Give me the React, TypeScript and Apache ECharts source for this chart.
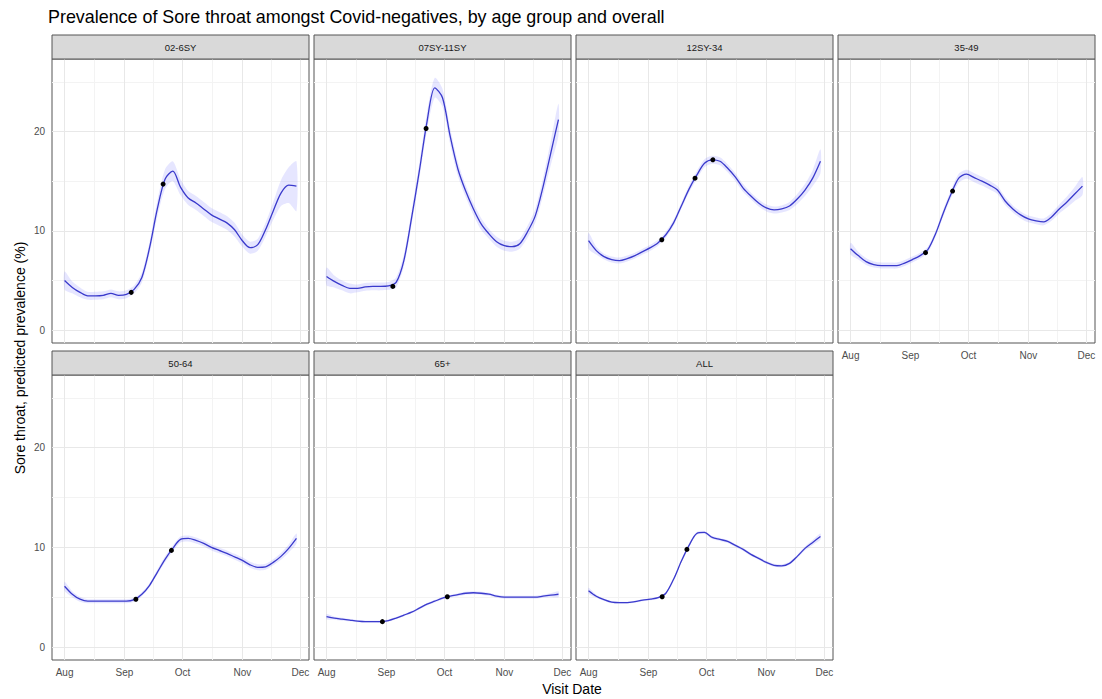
import React, { useEffect, useRef } from "react";
import * as echarts from "echarts";

const FONT = "'Liberation Sans', Arial, sans-serif";

// Days since 1 Aug at which the smoothed prevalence curves are sampled
const days = [0, 4, 8, 12, 16, 20, 24, 28, 32, 36, 40, 44, 48, 52, 56, 60, 64, 68, 72, 76, 80, 84, 88, 92, 96, 100, 104, 108, 112, 116, 120];

const panelNames = ["02-6SY", "07SY-11SY", "12SY-34", "35-49", "50-64", "65+", "ALL"];

const prev02_6SY = [5.0, 4.3, 3.8, 3.45, 3.45, 3.5, 3.7, 3.5, 3.6, 4.1, 5.3, 8.3, 12.2, 15.2, 16.0, 14.4, 13.3, 12.8, 12.2, 11.6, 11.2, 10.8, 10.1, 9.0, 8.3, 8.6, 10.1, 12.0, 13.8, 14.6, 14.5];
const prev07SY_11SY = [5.4, 4.9, 4.5, 4.2, 4.2, 4.35, 4.4, 4.4, 4.45, 4.8, 7.0, 11.3, 16.0, 21.0, 24.4, 23.4, 19.5, 16.2, 14.0, 12.2, 10.7, 9.7, 8.9, 8.5, 8.4, 8.7, 9.9, 11.5, 14.4, 17.8, 21.2];
const prev12SY_34 = [9.0, 8.0, 7.4, 7.1, 7.0, 7.2, 7.5, 7.9, 8.3, 8.8, 9.6, 10.8, 12.5, 14.2, 15.6, 16.8, 17.15, 17.0, 16.3, 15.4, 14.3, 13.5, 12.8, 12.3, 12.1, 12.2, 12.5, 13.2, 14.1, 15.3, 17.0];
const prev35_49 = [8.2, 7.5, 6.9, 6.6, 6.5, 6.5, 6.5, 6.75, 7.1, 7.5, 8.1, 9.7, 11.8, 13.7, 15.3, 15.7, 15.35, 15.0, 14.6, 14.1, 13.0, 12.2, 11.6, 11.2, 11.0, 10.9, 11.4, 12.2, 12.9, 13.7, 14.5];
const prev50_64 = [6.1, 5.3, 4.8, 4.6, 4.6, 4.6, 4.6, 4.6, 4.6, 4.75, 5.3, 6.2, 7.5, 8.8, 9.9, 10.8, 10.9, 10.7, 10.4, 10.0, 9.7, 9.4, 9.05, 8.7, 8.25, 8.0, 8.05, 8.5, 9.1, 9.9, 10.9];
const prev65plus = [3.05, 2.9, 2.8, 2.7, 2.6, 2.55, 2.55, 2.55, 2.65, 2.9, 3.2, 3.5, 3.9, 4.3, 4.6, 4.9, 5.1, 5.25, 5.4, 5.45, 5.4, 5.3, 5.1, 5.0, 5.0, 5.0, 5.0, 5.0, 5.1, 5.2, 5.3];
const prevALL = [5.65, 5.1, 4.75, 4.5, 4.45, 4.45, 4.55, 4.7, 4.8, 4.95, 5.4, 6.8, 8.6, 10.2, 11.4, 11.5, 11.0, 10.8, 10.6, 10.2, 9.8, 9.3, 8.9, 8.5, 8.2, 8.15, 8.4, 9.1, 9.9, 10.5, 11.1];

// Half-widths of the confidence ribbons
const ci02_6SY = [0.9, 0.6, 0.5, 0.4, 0.4, 0.4, 0.4, 0.4, 0.4, 0.4, 0.5, 0.6, 0.8, 1.0, 1.0, 0.8, 0.7, 0.7, 0.7, 0.7, 0.7, 0.7, 0.7, 0.6, 0.6, 0.6, 0.7, 0.9, 1.3, 1.8, 2.5];
const ci07SY_11SY = [0.9, 0.6, 0.5, 0.5, 0.4, 0.4, 0.4, 0.4, 0.4, 0.5, 0.6, 0.7, 0.8, 0.9, 1.0, 0.9, 0.8, 0.7, 0.6, 0.6, 0.6, 0.5, 0.5, 0.5, 0.5, 0.5, 0.6, 0.7, 0.9, 1.2, 1.6];
const ci12SY_34 = [0.8, 0.4, 0.3, 0.3, 0.3, 0.3, 0.3, 0.3, 0.3, 0.3, 0.3, 0.3, 0.3, 0.35, 0.4, 0.4, 0.4, 0.4, 0.4, 0.4, 0.4, 0.35, 0.35, 0.35, 0.35, 0.35, 0.4, 0.5, 0.6, 0.8, 1.2];
const ci35_49 = [0.6, 0.4, 0.35, 0.3, 0.3, 0.3, 0.3, 0.3, 0.3, 0.3, 0.3, 0.3, 0.35, 0.4, 0.45, 0.45, 0.45, 0.45, 0.45, 0.4, 0.4, 0.35, 0.35, 0.35, 0.35, 0.35, 0.4, 0.45, 0.55, 0.7, 0.9];
const ci50_64 = [0.45, 0.3, 0.25, 0.2, 0.2, 0.2, 0.2, 0.2, 0.2, 0.2, 0.2, 0.2, 0.25, 0.3, 0.3, 0.3, 0.3, 0.3, 0.3, 0.3, 0.3, 0.3, 0.3, 0.3, 0.3, 0.3, 0.3, 0.3, 0.35, 0.4, 0.5];
const ci65plus = [0.25, 0.15, 0.15, 0.12, 0.12, 0.12, 0.12, 0.12, 0.12, 0.12, 0.12, 0.12, 0.12, 0.12, 0.12, 0.12, 0.12, 0.15, 0.15, 0.15, 0.15, 0.15, 0.15, 0.15, 0.15, 0.15, 0.15, 0.15, 0.15, 0.2, 0.3];
const ciALL = [0.3, 0.15, 0.12, 0.1, 0.1, 0.1, 0.1, 0.1, 0.1, 0.1, 0.12, 0.15, 0.15, 0.15, 0.15, 0.15, 0.15, 0.15, 0.15, 0.15, 0.15, 0.15, 0.15, 0.15, 0.15, 0.15, 0.15, 0.15, 0.2, 0.25, 0.3];

// Highlighted points (days since 1 Aug, prevalence %)
const dotDays = [[34.5, 51], [34.3, 51.5], [37.9, 55.1, 64.3], [38.8, 52.8], [36.9, 55.3], [28.9, 62.5], [38.1, 50.9]];
const dotValues = [[3.8, 14.7], [4.4, 20.3], [9.1, 15.3, 17.15], [7.8, 14.0], [4.8, 9.7], [2.55, 5.05], [5.05, 9.8]];

const panelValues = [prev02_6SY, prev07SY_11SY, prev12SY_34, prev35_49, prev50_64, prev65plus, prevALL];
const panelCI = [ci02_6SY, ci07SY_11SY, ci12SY_34, ci35_49, ci50_64, ci65plus, ciALL];

const monthDays = [0, 31, 61, 92, 122];
const monthLabels = ["Aug", "Sep", "Oct", "Nov", "Dec"];
const minorDays = [15.5, 46, 76.5, 107];
const yMajor = [0, 10, 20];
const yMinor = [5, 15, 25];

export default function App() {
  const ref = useRef<HTMLDivElement>(null);
  useEffect(() => {
    const chart = echarts.init(ref.current!, null, { renderer: "svg" });
    const colLefts = [52, 314, 576, 838];
    const rowTops = [59, 375];
    const rowHeights = [284, 285];
    const W = 257;
    const STRIP = 24;
    const grids: any[] = [];
    const xAxes: any[] = [];
    const yAxes: any[] = [];
    const series: any[] = [];
    const graphics: any[] = [];

    const gridLineData = [
      ...minorDays.map((d) => ({ xAxis: d, lineStyle: { color: "#f3f3f3", width: 1, type: "solid" } })),
      ...yMinor.map((v) => ({ yAxis: v, lineStyle: { color: "#f3f3f3", width: 1, type: "solid" } })),
      ...monthDays.map((d) => ({ xAxis: d, lineStyle: { color: "#e8e8e8", width: 1, type: "solid" } })),
      ...yMajor.map((v) => ({ yAxis: v, lineStyle: { color: "#e8e8e8", width: 1, type: "solid" } })),
    ];

    panelNames.forEach((name, i) => {
      const row = i < 4 ? 0 : 1;
      const col = i % 4;
      const left = colLefts[col];
      const top = rowTops[row];
      const h = rowHeights[row];
      grids.push({ left, top, width: W, height: h, show: true, borderColor: "#555", borderWidth: 1, backgroundColor: "#fff" });
      const showX = i >= 3;
      xAxes.push({
        gridIndex: i, type: "value", min: -6.5, max: 126.5,
        axisLine: { show: false }, splitLine: { show: false },
        axisTick: { show: showX, customValues: monthDays, length: 4, lineStyle: { color: "#333" } },
        axisLabel: {
          show: showX, customValues: monthDays, margin: 7, color: "#4d4d4d", fontSize: 10, fontFamily: FONT,
          formatter: (v: number) => { const k = monthDays.indexOf(v); return k >= 0 ? monthLabels[k] : ""; },
        },
      });
      const showY = col === 0;
      yAxes.push({
        gridIndex: i, type: "value", min: -1.3, max: 27.3,
        axisLine: { show: false }, splitLine: { show: false },
        axisTick: { show: showY, customValues: yMajor, length: 4, lineStyle: { color: "#333" } },
        axisLabel: { show: showY, customValues: yMajor, margin: 7, color: "#4d4d4d", fontSize: 10, fontFamily: FONT },
      });
      const vals = panelValues[i];
      const ci = panelCI[i];
      // invisible carrier of the panel grid lines
      series.push({
        type: "line", xAxisIndex: i, yAxisIndex: i, symbol: "none", silent: true, z: 1,
        lineStyle: { opacity: 0 },
        data: days.map((d, k) => [d, vals[k]]),
        markLine: { z: 1, silent: true, symbol: ["none", "none"], label: { show: false }, animation: false, data: gridLineData },
      });
      // confidence ribbon
      series.push({
        type: "custom", xAxisIndex: i, yAxisIndex: i, silent: true, z: 2,
        data: [[days[0], vals[0]]],
        renderItem: (params: any, api: any) => {
          const upper = days.map((d, k) => api.coord([d, vals[k] + ci[k]]));
          const lower = days.map((d, k) => api.coord([d, vals[k] - ci[k]])).reverse();
          return {
            type: "polygon",
            shape: { points: upper.concat(lower), smooth: 0.25 },
            style: { fill: "rgba(100,100,255,0.16)" },
          };
        },
      });
      series.push({
        type: "line", xAxisIndex: i, yAxisIndex: i, smooth: 0.3, symbol: "none", silent: true, z: 3,
        lineStyle: { color: "#3a3acc", width: 1.3 },
        emphasis: { disabled: true },
        data: days.map((d, k) => [d, vals[k]]),
      });
      series.push({
        type: "scatter", xAxisIndex: i, yAxisIndex: i, symbol: "circle", symbolSize: 5, silent: true, z: 4,
        itemStyle: { color: "#000", borderWidth: 0, opacity: 1 },
        emphasis: { disabled: true },
        data: dotDays[i].map((d, k) => [d, dotValues[i][k]]),
      });
      graphics.push({
        type: "rect", z: 10, shape: { x: left, y: top - STRIP, width: W, height: STRIP },
        style: { fill: "#d9d9d9", stroke: "#555", lineWidth: 1 },
      });
      graphics.push({
        type: "text", z: 11, x: left + W / 2, y: top - STRIP / 2,
        style: { text: name, fill: "#1a1a1a", font: `9.5px ${FONT}`, textAlign: "center", textVerticalAlign: "middle" },
      });
    });

    graphics.push({
      type: "text", z: 11, x: 48, y: 8,
      style: { text: "Prevalence of Sore throat amongst Covid-negatives, by age group and overall", fill: "#000", font: `17.9px ${FONT}`, textAlign: "left", textVerticalAlign: "top" },
    });
    graphics.push({
      type: "text", z: 11, x: 20, y: 358, rotation: Math.PI / 2,
      style: { text: "Sore throat, predicted prevalence (%)", fill: "#000", font: `14px ${FONT}`, textAlign: "center", textVerticalAlign: "middle" },
    });
    graphics.push({
      type: "text", z: 11, x: 572, y: 689,
      style: { text: "Visit Date", fill: "#000", font: `14px ${FONT}`, textAlign: "center", textVerticalAlign: "middle" },
    });

    chart.setOption({
      animation: false,
      backgroundColor: "#fff",
      grid: grids,
      xAxis: xAxes,
      yAxis: yAxes,
      series,
      graphic: graphics,
    });
    return () => chart.dispose();
  }, []);
  return <div ref={ref} style={{ position: "absolute", left: 0, top: 0, width: 1102, height: 699 }} />;
}
